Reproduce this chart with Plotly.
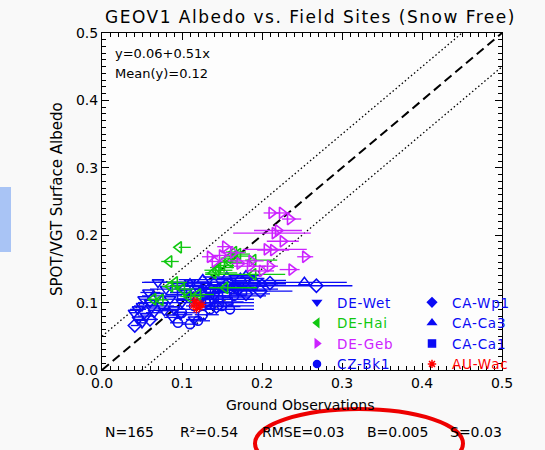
import plotly.graph_objects as go

# ---------------- data ----------------
# DE-Wet (blue, down triangles)
wet_x = [0.045, 0.040, 0.050, 0.055, 0.045, 0.060, 0.058, 0.070, 0.075, 0.080, 0.085, 0.090,
         0.100, 0.095, 0.110, 0.105, 0.120, 0.065, 0.050, 0.130, 0.088, 0.140, 0.115, 0.070,
         0.062, 0.078, 0.098, 0.052]
wet_y = [0.090, 0.085, 0.095, 0.080, 0.075, 0.100, 0.115, 0.110, 0.095, 0.120, 0.105, 0.090,
         0.100, 0.125, 0.130, 0.115, 0.120, 0.085, 0.070, 0.125, 0.078, 0.110, 0.075, 0.130,
         0.092, 0.088, 0.082, 0.105]
wet_em = [0.010, 0.005, 0.010, 0.010, 0.005, 0.015, 0.010, 0.020, 0.010, 0.020, 0.010, 0.015,
          0.020, 0.010, 0.040, 0.020, 0.020, 0.010, 0.005, 0.030, 0.010, 0.020, 0.010, 0.020,
          0.010, 0.010, 0.010, 0.005]
wet_ep = [0.010, 0.005, 0.015, 0.010, 0.010, 0.020, 0.015, 0.030, 0.015, 0.040, 0.015, 0.020,
          0.030, 0.015, 0.080, 0.030, 0.050, 0.010, 0.005, 0.060, 0.015, 0.040, 0.015, 0.030,
          0.010, 0.015, 0.015, 0.010]

# DE-Hai (green, left triangles)
hai_x = [0.096, 0.084, 0.158, 0.166, 0.160, 0.189, 0.143, 0.139, 0.189, 0.091, 0.085, 0.154,
         0.108, 0.073, 0.064, 0.150, 0.170, 0.100, 0.145, 0.165, 0.120]
hai_y = [0.182, 0.161, 0.166, 0.169, 0.160, 0.163, 0.148, 0.144, 0.142, 0.130, 0.124, 0.122,
         0.109, 0.104, 0.105, 0.155, 0.172, 0.120, 0.152, 0.175, 0.112]
hai_em = [0.000, 0.010, 0.010, 0.010, 0.010, 0.010, 0.015, 0.010, 0.060, 0.010, 0.010, 0.020,
          0.010, 0.005, 0.005, 0.010, 0.010, 0.010, 0.010, 0.010, 0.010]
hai_ep = [0.015, 0.012, 0.015, 0.020, 0.015, 0.030, 0.020, 0.030, 0.040, 0.015, 0.015, 0.040,
          0.020, 0.010, 0.010, 0.015, 0.015, 0.015, 0.020, 0.015, 0.020]

# DE-Geb (magenta, right triangles)
geb_x = [0.212, 0.225, 0.235, 0.216, 0.220, 0.226, 0.206, 0.214, 0.254, 0.154, 0.164, 0.135,
         0.141, 0.187, 0.185, 0.210, 0.200, 0.237, 0.150, 0.172]
geb_y = [0.233, 0.233, 0.224, 0.203, 0.207, 0.191, 0.179, 0.178, 0.168, 0.183, 0.174, 0.168,
         0.161, 0.162, 0.154, 0.154, 0.147, 0.149, 0.170, 0.158]
geb_em = [0.010, 0.010, 0.010, 0.052, 0.030, 0.020, 0.030, 0.020, 0.010, 0.010, 0.015, 0.010,
          0.010, 0.030, 0.020, 0.010, 0.015, 0.015, 0.010, 0.010]
geb_ep = [0.010, 0.010, 0.014, 0.045, 0.030, 0.020, 0.050, 0.020, 0.010, 0.010, 0.015, 0.010,
          0.010, 0.015, 0.020, 0.010, 0.015, 0.010, 0.010, 0.010]

# CZ-Bk1 (blue, circles)
bk1_x = [0.126, 0.110, 0.135, 0.150, 0.100, 0.140, 0.120, 0.165, 0.095, 0.160, 0.115, 0.130]
bk1_y = [0.082, 0.068, 0.090, 0.095, 0.085, 0.105, 0.073, 0.110, 0.070, 0.090, 0.095, 0.100]
bk1_em = [0.010, 0.010, 0.015, 0.020, 0.010, 0.020, 0.010, 0.020, 0.010, 0.020, 0.010, 0.010]
bk1_ep = [0.020, 0.010, 0.030, 0.040, 0.020, 0.050, 0.015, 0.040, 0.010, 0.030, 0.020, 0.060]

# CA-Wp1 (blue, diamonds)
wp1_x = [0.210, 0.268, 0.198, 0.143, 0.041, 0.170, 0.180, 0.155, 0.190, 0.125, 0.135, 0.060]
wp1_y = [0.129, 0.125, 0.117, 0.094, 0.066, 0.120, 0.113, 0.125, 0.128, 0.110, 0.120, 0.075]
wp1_em = [0.020, 0.100, 0.030, 0.020, 0.005, 0.030, 0.020, 0.020, 0.030, 0.020, 0.020, 0.010]
wp1_ep = [0.020, 0.045, 0.040, 0.030, 0.005, 0.050, 0.030, 0.040, 0.030, 0.030, 0.040, 0.010]

# CA-Ca3 (blue, up triangles)
ca3_x = [0.253, 0.173, 0.156, 0.126, 0.140, 0.190, 0.200, 0.165, 0.110, 0.180, 0.145]
ca3_y = [0.130, 0.136, 0.138, 0.134, 0.130, 0.133, 0.128, 0.126, 0.128, 0.140, 0.120]
ca3_em = [0.200, 0.030, 0.030, 0.030, 0.040, 0.030, 0.030, 0.030, 0.020, 0.020, 0.030]
ca3_ep = [0.053, 0.030, 0.030, 0.030, 0.040, 0.040, 0.030, 0.030, 0.020, 0.020, 0.030]

# CA-Ca1 (blue, squares)
ca1_x = [0.157, 0.130, 0.145, 0.165, 0.120, 0.175, 0.100, 0.150, 0.135]
ca1_y = [0.101, 0.115, 0.108, 0.120, 0.105, 0.118, 0.112, 0.122, 0.098]
ca1_em = [0.020, 0.020, 0.020, 0.030, 0.020, 0.030, 0.020, 0.030, 0.020]
ca1_ep = [0.020, 0.030, 0.040, 0.030, 0.030, 0.030, 0.020, 0.040, 0.030]

# AU-Wac (red, asterisks)
wac_x = [0.114, 0.120, 0.118, 0.122, 0.116, 0.125]
wac_y = [0.095, 0.099, 0.090, 0.093, 0.103, 0.097]

# reference lines
line_x = [0.0, 0.5]
one_to_one = [0.0, 0.5]
band = 0.05

# tick labels
tick_vals = [0.0, 0.1, 0.2, 0.3, 0.4, 0.5]
tick_text = ["0.0", "0.1", "0.2", "0.3", "0.4", "0.5"]

stats = ["N=165", "R\u00b2=0.54", "RMSE=0.03", "B=0.005", "S=0.03"]
stats_px = [129, 209, 303, 397, 476]

BLUE = "#0a0af5"
GREEN = "#10c810"
MAG = "#cc22ff"
RED = "#ff0000"

fig = go.Figure()

# lines
fig.add_trace(go.Scatter(x=line_x, y=one_to_one, mode="lines",
                         line=dict(color="black", width=2, dash="9px,5px"), showlegend=False))
fig.add_trace(go.Scatter(x=line_x, y=[v + band for v in one_to_one], mode="lines",
                         line=dict(color="black", width=1.3, dash="1.5px,2.5px"),
                         showlegend=False))
fig.add_trace(go.Scatter(x=line_x, y=[v - band for v in one_to_one], mode="lines",
                         line=dict(color="black", width=1.3, dash="1.5px,2.5px"),
                         showlegend=False))


def add_site(x, y, em, ep, color, sym, size=10, lw=1.6):
    err = None
    if em is not None:
        err = dict(type="data", symmetric=False, array=ep, arrayminus=em,
                   color=color, thickness=1.3, width=0)
    fig.add_trace(go.Scatter(
        x=x, y=y, mode="markers", error_x=err, showlegend=False,
        marker=dict(symbol=sym, size=size, color=color,
                    line=dict(color=color, width=lw))))


add_site(wet_x, wet_y, wet_em, wet_ep, BLUE, "triangle-down-open")
add_site(bk1_x, bk1_y, bk1_em, bk1_ep, BLUE, "circle-open", size=9)
add_site(wp1_x, wp1_y, wp1_em, wp1_ep, BLUE, "diamond-open")
add_site(ca3_x, ca3_y, ca3_em, ca3_ep, BLUE, "triangle-up-open")
add_site(ca1_x, ca1_y, ca1_em, ca1_ep, BLUE, "square-open", size=9)
add_site(hai_x, hai_y, hai_em, hai_ep, GREEN, "triangle-left-open")
add_site(geb_x, geb_y, geb_em, geb_ep, MAG, "triangle-right-open")
add_site(wac_x, wac_y, None, None, RED, "asterisk-open", size=7, lw=1.2)

FONT = "DejaVu Sans, Verdana, sans-serif"
LS = "letter-spacing:0.8px"

# legend entries (filled symbols, as in the reference); their single point lies off-range
leg1 = [("DE-Wet", BLUE, "triangle-down"), ("DE-Hai", GREEN, "triangle-left"),
        ("DE-Geb", MAG, "triangle-right"), ("CZ-Bk1", BLUE, "circle")]
leg2 = [("CA-Wp1", BLUE, "diamond"), ("CA-Ca3", BLUE, "triangle-up"),
        ("CA-Ca1", BLUE, "square"), ("AU-Wac", RED, "asterisk-open")]
for lg, items in (("legend", leg1), ("legend2", leg2)):
    for name, col, sym in items:
        fig.add_trace(go.Scatter(
            x=[-1.0], y=[-1.0], mode="markers", legend=lg, hoverinfo="skip",
            name=f"<span style='color:{col};{LS}'>{name}</span>",
            marker=dict(symbol=sym, size=7, color=col, line=dict(color=col, width=1.5))))

W, H = 545, 450
L, R, T, B = 102, 43, 33, 80
PW, PH = W - L - R, H - T - B


def px(xp):
    return (xp - L) / PW


def py(yp):
    return (H - B - yp) / PH


fig.update_layout(
    width=W, height=H, margin=dict(l=L, r=R, t=T, b=B),
    paper_bgcolor="#f9f9f9", plot_bgcolor="#fdfdfd",
    font=dict(family=FONT, color="black", size=14),
    legend=dict(x=px(297), y=py(287), xanchor="left", yanchor="top",
                bgcolor="rgba(0,0,0,0)", font=dict(size=13.5, family=FONT),
                tracegroupgap=0, itemwidth=30),
    legend2=dict(x=px(412), y=py(287), xanchor="left", yanchor="top",
                 bgcolor="rgba(0,0,0,0)", font=dict(size=13.5, family=FONT),
                 tracegroupgap=0, itemwidth=30),
)
for upd in (fig.update_xaxes, fig.update_yaxes):
    upd(range=[0, 0.5], tickmode="array", tickvals=tick_vals, ticktext=tick_text,
        ticks="inside", ticklen=7, tickcolor="black", showline=True, linecolor="black",
        mirror="allticks", showgrid=False,
        minor=dict(tickmode="linear", tick0=0, dtick=0.01, ticks="inside", ticklen=4,
                   tickcolor="black"))

ann = [
    dict(text="<span style='letter-spacing:1.5px'>GEOV1 Albedo vs. Field Sites (Snow Free)</span>",
         x=px(310), y=py(17), font=dict(size=17)),
    dict(text="y=0.06+0.51x", x=px(113), y=py(53), xanchor="left", font=dict(size=13)),
    dict(text="Mean(y)=0.12", x=px(113), y=py(73), xanchor="left", font=dict(size=13)),
    dict(text="Ground Observations", x=px(300), y=py(405), font=dict(size=14)),
    dict(text="SPOT/VGT Surface Albedo", x=px(57), y=py(199), textangle=-90,
         font=dict(size=15)),
]
for s, p in zip(stats, stats_px):
    ann.append(dict(text=s, x=px(p), y=py(432), font=dict(size=14)))
for a in ann:
    a.setdefault("xanchor", "center")
    fig.add_annotation(xref="paper", yref="paper", yanchor="middle", showarrow=False, **a)

fig.add_shape(type="circle", xref="paper", yref="paper",
              x0=px(255), x1=px(463), y0=py(409), y1=py(478),
              line=dict(color="#ee0000", width=4))
fig.add_shape(type="rect", xref="paper", yref="paper",
              x0=px(0), x1=px(11), y0=py(187), y1=py(252),
              fillcolor="#a9c4f5", line=dict(width=0))

fig.write_html("out.html")
